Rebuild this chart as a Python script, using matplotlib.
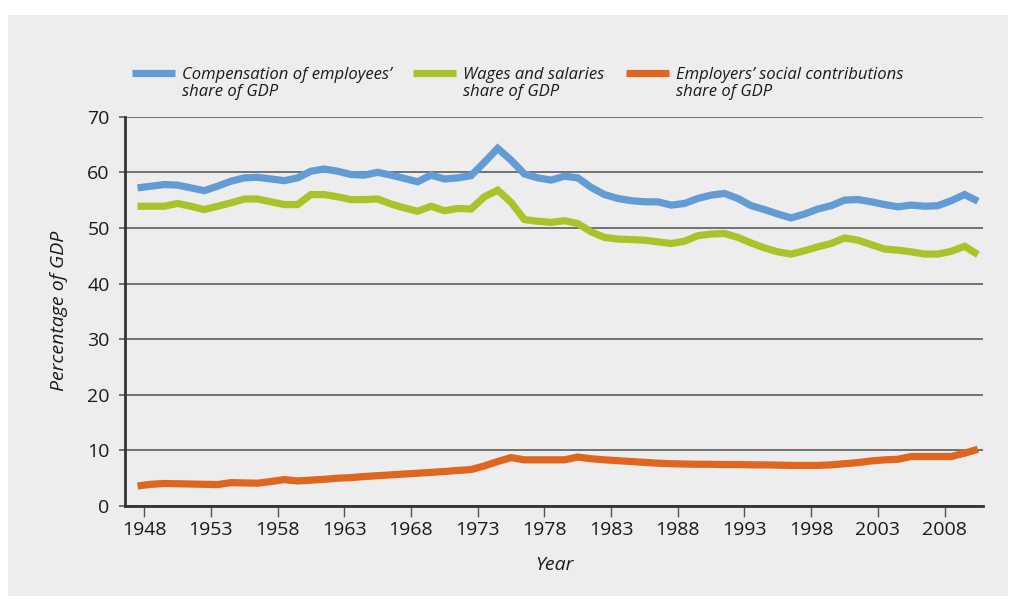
import numpy as np
import matplotlib.pyplot as plt
from matplotlib.patches import Rectangle
from matplotlib.legend_handler import HandlerLine2D

plt.rcParams["font.family"] = ["Open Sans", "DejaVu Sans"]

years = np.arange(1948, 2012)
tick_years = np.arange(1948, 2009, 5)

# share of GDP, per cent
compensation = [57.2, 57.5, 57.8, 57.7, 57.2, 56.7, 57.5, 58.4, 59.0, 59.1,
                58.8, 58.5, 59.0, 60.2, 60.6, 60.2, 59.6, 59.5, 60.0, 59.5,
                58.9, 58.3, 59.5, 58.8, 59.0, 59.4, 61.8, 64.3, 62.2, 59.7,
                59.0, 58.6, 59.3, 59.0, 57.3, 56.0, 55.3, 54.9, 54.7, 54.7,
                54.1, 54.4, 55.3, 55.9, 56.2, 55.3, 54.0, 53.3, 52.5, 51.8,
                52.5, 53.4, 54.0, 55.0, 55.1, 54.7, 54.2, 53.8, 54.1, 53.9,
                54.0, 54.9, 56.0, 54.8]
wages = [53.9, 53.9, 53.9, 54.4, 53.9, 53.3, 53.9, 54.5, 55.2, 55.2,
         54.7, 54.2, 54.2, 56.0, 56.0, 55.6, 55.1, 55.1, 55.2, 54.3,
         53.6, 53.0, 53.9, 53.1, 53.5, 53.4, 55.6, 56.8, 54.6, 51.5,
         51.2, 51.0, 51.3, 50.8, 49.3, 48.3, 48.0, 47.9, 47.8, 47.5,
         47.2, 47.6, 48.6, 48.9, 49.0, 48.3, 47.3, 46.4, 45.7, 45.3,
         45.9, 46.6, 47.2, 48.2, 47.8, 47.0, 46.2, 46.0, 45.7, 45.3,
         45.3, 45.8, 46.7, 45.2]
employers = [3.6, 3.9, 4.05, 4.0, 3.95, 3.9, 3.85, 4.2, 4.15, 4.1,
             4.4, 4.75, 4.5, 4.65, 4.8, 5.0, 5.1, 5.3, 5.45, 5.6,
             5.75, 5.9, 6.05, 6.2, 6.4, 6.55, 7.2, 8.0, 8.7, 8.3,
             8.3, 8.3, 8.3, 8.8, 8.5, 8.3, 8.15, 8.0, 7.85, 7.7,
             7.6, 7.55, 7.5, 7.5, 7.45, 7.45, 7.4, 7.4, 7.35, 7.3,
             7.3, 7.3, 7.4, 7.6, 7.8, 8.1, 8.3, 8.4, 8.9, 8.9,
             8.9, 8.9, 9.5, 10.2]

labels = ["Compensation of employees\u2019\nshare of GDP",
          "Wages and salaries\nshare of GDP",
          "Employers\u2019 social contributions\nshare of GDP"]
colors = ["#639bd4", "#a9c42b", "#e0651f"]
bg = "#ededed"
txt = "#1a1a1a"


class FirstLineHandler(HandlerLine2D):
    # put the legend swatch level with the first line of a two-line label
    def create_artists(self, legend, orig_handle, xdescent, ydescent,
                       width, height, fontsize, trans):
        return super().create_artists(legend, orig_handle, xdescent,
                                      ydescent - 1.25 * fontsize, width,
                                      height, fontsize, trans)


fig = plt.figure(figsize=(10.14, 6.01), dpi=100)
fig.patch.set_facecolor("white")
panel = Rectangle((8 / 1014, 5 / 601), 1000 / 1014, 581 / 601,
                  transform=fig.transFigure, facecolor=bg,
                  edgecolor="none", zorder=-5)
fig.add_artist(panel)

ax = fig.add_axes([125 / 1014, 95 / 601, 858 / 1014, 389.3 / 601])
ax.set_facecolor(bg)

lines = []
for series, lab, col in zip([compensation, wages, employers], labels, colors):
    ln, = ax.plot(years, series, color=col, lw=5.2, label=lab,
                  solid_joinstyle="miter", solid_capstyle="butt", zorder=3)
    lines.append(ln)

ax.set_xlim(1947.06, 2011.38)
ax.set_ylim(0, 70)
ax.set_yticks(np.arange(0, 71, 10))
ax.set_xticks(tick_years + 0.5, [str(y) for y in tick_years])
ax.yaxis.grid(True, color="#5c5c5c", lw=1.2)
ax.set_axisbelow(True)

for s in ["top", "right"]:
    ax.spines[s].set_visible(False)
for s in ["left", "bottom"]:
    ax.spines[s].set_color("#333333")
    ax.spines[s].set_linewidth(2)

ax.tick_params(axis="x", length=8, width=1, color="#555555",
               labelsize=14, pad=3, labelcolor=txt)
ax.tick_params(axis="y", length=4, width=1.2, color="#5c5c5c",
               labelsize=14, pad=7, labelcolor=txt)

ax.set_ylabel("Percentage of GDP", style="italic", fontsize=14,
              color=txt, labelpad=14)
ax.set_xlabel("Year", style="italic", fontsize=14, color=txt,
              labelpad=12)

leg = ax.legend(handles=lines, ncol=3, loc="lower left",
                bbox_to_anchor=(0.0, 1.025), frameon=False, fontsize=12,
                handlelength=2.6, handletextpad=0.4, columnspacing=1.3,
                borderaxespad=0, labelspacing=0.2,
                handler_map={ln: FirstLineHandler() for ln in lines})
for t in leg.get_texts():
    t.set_fontstyle("italic")
    t.set_color(txt)
    t.set_linespacing(1.15)

fig.savefig("out.png", dpi=100, facecolor=fig.get_facecolor())
